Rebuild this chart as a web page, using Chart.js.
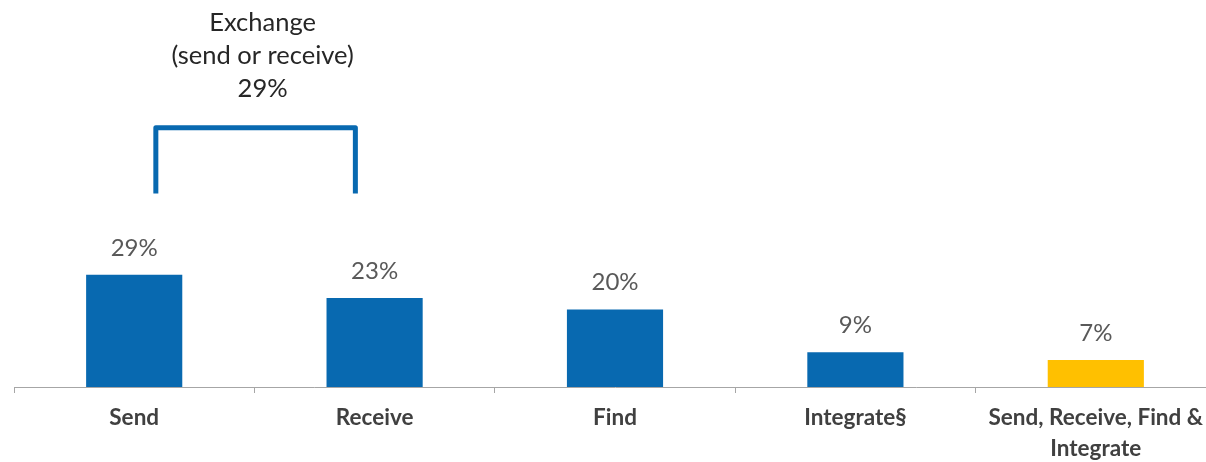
<!DOCTYPE html>
<html>
<head>
<meta charset="utf-8">
<script src="https://cdn.jsdelivr.net/npm/chart.js@4.4.1/dist/chart.umd.min.js"></script>
<style>
  html, body { margin: 0; padding: 0; background: #ffffff; overflow: hidden; }
  #wrap { position: relative; width: 1216px; height: 462px; }
</style>
</head>
<body>
<div id="wrap"><canvas id="c"></canvas></div>
<script>
const categories = ["Send", "Receive", "Find", "Integrate§", ["Send, Receive, Find &", "Integrate"]];
const values = [29, 23, 20, 9, 7];
const barColors = ["#0869B0", "#0869B0", "#0869B0", "#0869B0", "#FFC000"];
const bracketLines = ["Exchange", "(send or receive)", "29%"];
const bracketFrom = 0, bracketTo = 1;
const bracketTopValue = 67, bracketBottomValue = 50;
const bracketTextValues = [94.2, 85.6, 77.1];

const FONT = "Lato, 'Open Sans', sans-serif";

const dataLabelPlugin = {
  id: 'dataLabels',
  afterDatasetsDraw(chart) {
    const ctx = chart.ctx;
    const meta = chart.getDatasetMeta(0);
    ctx.save();
    ctx.font = "24px " + FONT;
    ctx.fillStyle = "#595959";
    ctx.textAlign = "center";
    ctx.textBaseline = "middle";
    meta.data.forEach((bar, i) => {
      ctx.fillText(values[i] + "%", bar.x, bar.y - 27);
    });
    ctx.restore();
  }
};

const bracketPlugin = {
  id: 'bracket',
  afterDatasetsDraw(chart) {
    const ctx = chart.ctx;
    const xs = chart.scales.x, ys = chart.scales.y;
    const cw = xs.getPixelForValue(1) - xs.getPixelForValue(0);
    const left = xs.getPixelForValue(bracketFrom) + 0.09 * cw;
    const right = xs.getPixelForValue(bracketTo) - 0.08 * cw;
    const top = ys.getPixelForValue(bracketTopValue);
    const bottom = ys.getPixelForValue(bracketBottomValue);
    ctx.save();
    ctx.strokeStyle = "#0869B0";
    ctx.lineWidth = 5;
    ctx.lineJoin = "round";
    ctx.beginPath();
    ctx.moveTo(left, bottom);
    ctx.lineTo(left, top);
    ctx.lineTo(right, top);
    ctx.lineTo(right, bottom);
    ctx.stroke();
    ctx.font = "25.5px " + FONT;
    ctx.fillStyle = "#262626";
    ctx.textAlign = "center";
    ctx.textBaseline = "middle";
    const cx = (left + right) / 2 + 7;
    bracketLines.forEach((t, i) => {
      ctx.fillText(t, cx, ys.getPixelForValue(bracketTextValues[i]));
    });
    ctx.restore();
  }
};

new Chart(document.getElementById('c'), {
  type: 'bar',
  data: {
    labels: categories,
    datasets: [{
      data: values,
      backgroundColor: barColors,
      borderWidth: 0,
      barPercentage: 0.8,
      categoryPercentage: 0.5
    }]
  },
  options: {
    responsive: true,
    maintainAspectRatio: false,
    animation: false,
    layout: { padding: { left: 14, right: 0, top: 0, bottom: 0 } },
    plugins: { legend: { display: false }, tooltip: { enabled: false } },
    scales: {
      x: {
        grid: {
          display: true,
          offset: true,
          drawOnChartArea: false,
          drawTicks: true,
          tickLength: 6,
          color: "#A6A6A6",
          lineWidth: 1
        },
        border: { display: true, color: "#A6A6A6", width: 1 },
        ticks: {
          color: "#404040",
          font: { family: FONT, size: 22.5, weight: "bold", lineHeight: 1.38 },
          padding: 9,
          maxRotation: 0,
          autoSkip: false
        },
        afterFit(scale) { scale.height = 75; }
      },
      y: {
        display: false,
        min: 0,
        max: 100
      }
    }
  },
  plugins: [dataLabelPlugin, bracketPlugin]
});
</script>
</body>
</html>
